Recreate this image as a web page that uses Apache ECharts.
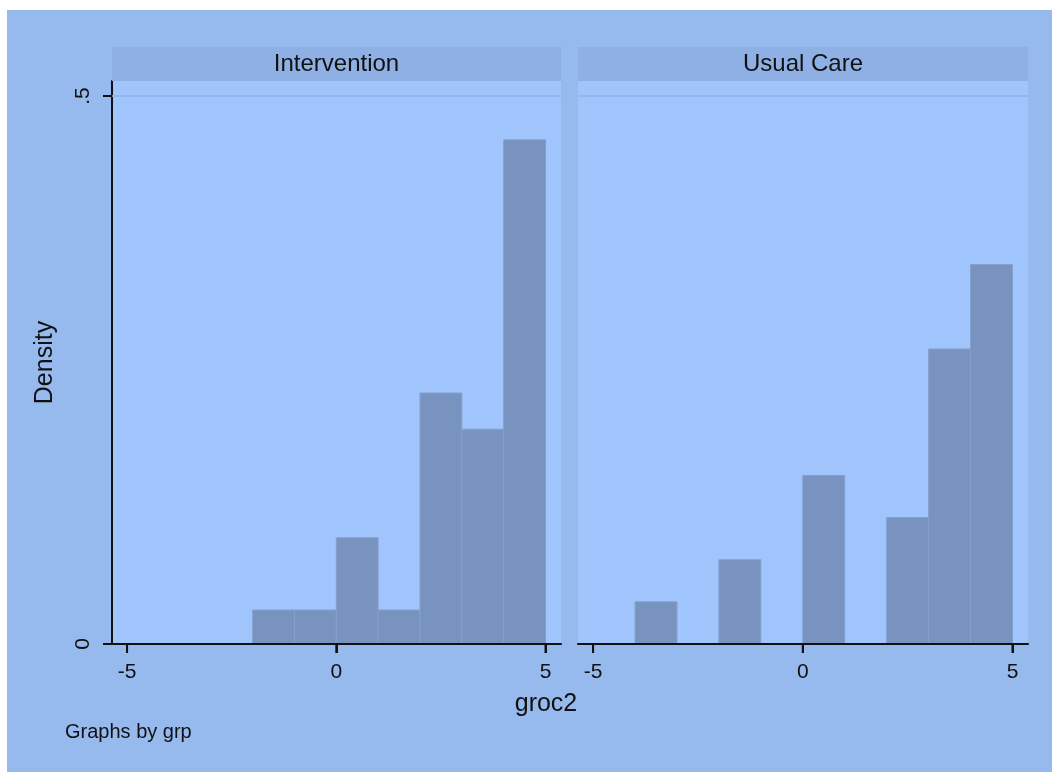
<!DOCTYPE html>
<html>
<head>
<meta charset="utf-8">
<title>groc2 by grp</title>
<script src="https://cdn.jsdelivr.net/npm/echarts@6/dist/echarts.min.js"></script>
<style>
  html, body { margin: 0; padding: 0; background: #ffffff; }
  #chart { position: absolute; left: 7px; top: 10px; width: 1045px; height: 762px; }
</style>
</head>
<body>
<div id="chart"></div>
<script>
// Panel titles (one histogram per group)
const panelNames = ['Intervention', 'Usual Care'];

// Histogram bins (width 1) and densities for each group
const binEdgesIntervention = [-2, -1, 0, 1, 2, 3, 4, 5];
const densityIntervention = [0.031, 0.031, 0.097, 0.031, 0.229, 0.196, 0.460];

const binEdgesUsualCare = [-4, -3, -2, -1, 0, 1, 2, 3, 4, 5];
const densityUsualCare = [0.0385, 0, 0.0769, 0, 0.1538, 0, 0.1154, 0.2692, 0.3462];

// Axis ticks and labels
const xTicks = [-5, 0, 5];
const yTicks = [0, 0.5];
const yTickLabels = ['0', '.5'];
const yGridValue = 0.5;

const xTitle = 'groc2';
const yTitle = 'Density';
const noteText = 'Graphs by grp';

const FONT = '"Liberation Sans", Arial, sans-serif';
const INK = '#111111';
const OUTER_BG = '#96b9ee';
const PLOT_BG = '#a0c5fd';
const STRIP_BG = '#8fb0e4';
const BAR_FILL = '#7893bf';
const BAR_EDGE = '#84a0cc';
const GRID_LINE = '#8fb3ea';
const TICK_LEN = 9;

const X_MIN = -5.36, X_MAX = 5.37;

function toBins(edges, dens) {
  const out = [];
  for (let i = 0; i < dens.length; i++) {
    if (dens[i] > 0) out.push([edges[i], edges[i + 1], dens[i]]);
  }
  return out;
}

const panels = [
  { left: 105, width: 449, bins: toBins(binEdgesIntervention, densityIntervention) },
  { left: 571, width: 450, bins: toBins(binEdgesUsualCare, densityUsualCare) }
];
const GRID_TOP = 71, GRID_H = 563, STRIP_TOP = 37, STRIP_H = 34;

const chart = echarts.init(document.getElementById('chart'), null, { renderer: 'canvas' });

function renderBin(params, api) {
  const lo = api.value(0), hi = api.value(1), d = api.value(2);
  const a = api.coord([lo, 0]);
  const b = api.coord([hi, d]);
  return {
    type: 'rect',
    shape: { x: a[0], y: b[1], width: b[0] - a[0], height: a[1] - b[1] },
    style: { fill: BAR_FILL, stroke: BAR_EDGE, lineWidth: 1 }
  };
}

// Outward tick mark hanging below the x axis at a tick value
function renderXTick(params, api) {
  const p = api.coord([api.value(0), 0]);
  return {
    type: 'line',
    shape: { x1: p[0], y1: p[1], x2: p[0], y2: p[1] + TICK_LEN },
    style: { stroke: INK, lineWidth: 2 }
  };
}

const grids = panels.map(p => ({
  left: p.left, top: GRID_TOP, width: p.width, height: GRID_H,
  show: true, backgroundColor: PLOT_BG, borderWidth: 0
}));

const xAxes = panels.map((p, i) => ({
  type: 'value', gridIndex: i, min: X_MIN, max: X_MAX, position: 'bottom', z: 10,
  axisLine: { show: true, onZero: false, lineStyle: { color: INK, width: 2 } },
  axisTick: { show: true, length: TICK_LEN, customValues: xTicks, lineStyle: { color: INK, width: 2 } },
  axisLabel: { customValues: xTicks, margin: 18, color: INK, fontSize: 21, fontFamily: FONT },
  splitLine: { show: false }
}));

const yAxes = panels.map((p, i) => ({
  type: 'value', gridIndex: i, min: 0, max: 0.5137,
  name: i === 0 ? yTitle : '',
  nameLocation: 'middle', nameGap: 54,
  nameTextStyle: { color: INK, fontSize: 25, fontFamily: FONT },
  axisLine: { show: i === 0, onZero: false, lineStyle: { color: INK, width: 2 } },
  axisTick: { show: i === 0, length: TICK_LEN, customValues: yTicks, lineStyle: { color: INK, width: 2 } },
  axisLabel: {
    show: i === 0, customValues: yTicks, rotate: 90, margin: 18,
    color: INK, fontSize: 21, fontFamily: FONT,
    formatter: v => yTickLabels[yTicks.indexOf(v)] ?? ''
  },
  splitLine: { show: false }
}));

const series = [];
panels.forEach((p, i) => {
  // Histogram bins; the 0.5 reference line rides along as a markLine
  series.push({
    type: 'custom', xAxisIndex: i, yAxisIndex: i,
    data: p.bins, encode: { x: [0, 1], y: 2 },
    renderItem: renderBin, silent: true, z: 3,
    markLine: {
      silent: true, symbol: ['none', 'none'], label: { show: false }, z: 1,
      lineStyle: { color: GRID_LINE, width: 1.5, type: 'solid' },
      data: [{ yAxis: yGridValue }]
    }
  });
  // x-axis tick marks at the labelled values
  series.push({
    type: 'custom', xAxisIndex: i, yAxisIndex: i,
    data: xTicks.map(v => [v]), encode: { x: 0 },
    renderItem: renderXTick, clip: false, silent: true, z: 12
  });
});

const graphics = [];
panels.forEach((p, i) => {
  graphics.push({
    type: 'rect', silent: true, z: 1,
    shape: { x: p.left, y: STRIP_TOP, width: p.width, height: STRIP_H },
    style: { fill: STRIP_BG }
  });
  graphics.push({
    type: 'text', silent: true, z: 2,
    x: p.left + p.width / 2, y: STRIP_TOP + STRIP_H / 2,
    style: { text: panelNames[i], fill: INK, font: '24px ' + FONT, textAlign: 'center', textVerticalAlign: 'middle' }
  });
});
graphics.push({
  type: 'text', silent: true,
  x: 539, y: 694,
  style: { text: xTitle, fill: INK, font: '25px ' + FONT, textAlign: 'center', textVerticalAlign: 'middle' }
});
graphics.push({
  type: 'text', silent: true,
  x: 58, y: 722,
  style: { text: noteText, fill: INK, font: '20px ' + FONT, textAlign: 'left', textVerticalAlign: 'middle' }
});

chart.setOption({
  backgroundColor: OUTER_BG,
  animation: false,
  grid: grids,
  xAxis: xAxes,
  yAxis: yAxes,
  series: series,
  graphic: graphics
});
</script>
</body>
</html>
